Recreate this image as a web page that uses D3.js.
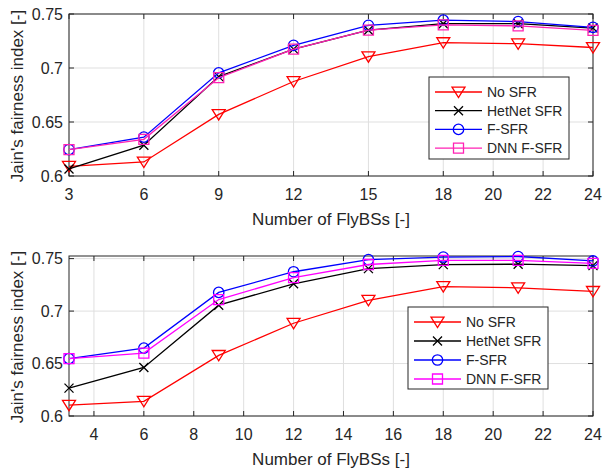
<!DOCTYPE html>
<html>
<head>
<meta charset="utf-8">
<script src="https://cdn.jsdelivr.net/npm/d3@7"></script>
<style>
  body { margin: 0; background: #fff; }
  svg text { font-family: "Liberation Sans", Arial, Helvetica, sans-serif; fill: #262626; }
</style>
</head>
<body>
<svg id="chart" width="604" height="470"></svg>
<script>
const flyBSs = [3, 6, 9, 12, 15, 18, 21, 24];
const seriesNames = ["No SFR", "HetNet SFR", "F-SFR", "DNN F-SFR"];

// top panel values
const topNoSFR = [0.609, 0.613, 0.657, 0.6875, 0.7105, 0.7235, 0.7225, 0.719];
const topHetNet = [0.6065, 0.6285, 0.692, 0.7175, 0.735, 0.741, 0.741, 0.737];
const topFSFR = [0.6245, 0.636, 0.6955, 0.721, 0.7395, 0.7443, 0.743, 0.7377];
const topDNN = [0.6245, 0.634, 0.691, 0.7175, 0.735, 0.740, 0.739, 0.7348];

// bottom panel values
const botNoSFR = [0.6103, 0.614, 0.6578, 0.6884, 0.7103, 0.7234, 0.7222, 0.7188];
const botHetNet = [0.6266, 0.6463, 0.7056, 0.726, 0.7405, 0.7443, 0.7447, 0.7433];
const botFSFR = [0.6547, 0.6647, 0.7178, 0.7375, 0.749, 0.7515, 0.752, 0.7478];
const botDNN = [0.6547, 0.660, 0.711, 0.7319, 0.7444, 0.7484, 0.7484, 0.7455];

const topXTicks = [3, 6, 9, 12, 15, 18, 20, 22, 24];
const botXTicks = [4, 6, 8, 10, 12, 14, 16, 18, 20, 22, 24];
const yTicks = [0.6, 0.65, 0.7, 0.75];

const svg = d3.select("#chart");
const left = 69, right = 593;
const ink = "#262626";

function markerPath(kind, x, y) {
  if (kind === "tri") {
    const s = 6.5;
    return `M${x - s},${y - s * 0.75}L${x + s},${y - s * 0.75}L${x},${y + s * 0.85}Z`;
  }
  if (kind === "x") {
    const s = 4.5;
    return `M${x - s},${y - s}L${x + s},${y + s}M${x - s},${y + s}L${x + s},${y - s}`;
  }
  if (kind === "sq") {
    const s = 5;
    return `M${x - s},${y - s}h${2 * s}v${2 * s}h${-2 * s}Z`;
  }
  return null;
}

function drawMarker(g, kind, x, y, color) {
  if (kind === "circle") {
    g.append("circle").attr("cx", x).attr("cy", y).attr("r", 5.2)
      .attr("fill", "none").attr("stroke", color).attr("stroke-width", 1.3);
  } else {
    g.append("path").attr("d", markerPath(kind, x, y))
      .attr("fill", "none").attr("stroke", color).attr("stroke-width", 1.3);
  }
}

function drawPanel(cfg) {
  const x = d3.scaleLinear().domain([3, 24]).range([left, right]);
  const y = d3.scaleLinear().domain([0.6, cfg.yMax]).range([cfg.bottom, cfg.top]);
  const g = svg.append("g");

  // grid
  g.selectAll(".gx").data(cfg.xTicks).join("line")
    .attr("x1", d => x(d)).attr("x2", d => x(d))
    .attr("y1", cfg.top).attr("y2", cfg.bottom)
    .attr("stroke", "#dfdfdf").attr("stroke-width", 1);
  g.selectAll(".gy").data(yTicks).join("line")
    .attr("x1", left).attr("x2", right)
    .attr("y1", d => y(d)).attr("y2", d => y(d))
    .attr("stroke", "#dfdfdf").attr("stroke-width", 1);

  // box
  g.append("rect").attr("x", left).attr("y", cfg.top)
    .attr("width", right - left).attr("height", cfg.bottom - cfg.top)
    .attr("fill", "none").attr("stroke", ink).attr("stroke-width", 1);

  // inward ticks on all sides
  const tl = 5;
  cfg.xTicks.forEach(t => {
    g.append("line").attr("x1", x(t)).attr("x2", x(t)).attr("y1", cfg.bottom).attr("y2", cfg.bottom - tl).attr("stroke", ink);
    g.append("line").attr("x1", x(t)).attr("x2", x(t)).attr("y1", cfg.top).attr("y2", cfg.top + tl).attr("stroke", ink);
  });
  yTicks.forEach(t => {
    g.append("line").attr("x1", left).attr("x2", left + tl).attr("y1", y(t)).attr("y2", y(t)).attr("stroke", ink);
    g.append("line").attr("x1", right).attr("x2", right - tl).attr("y1", y(t)).attr("y2", y(t)).attr("stroke", ink);
  });

  // tick labels
  g.selectAll(".xl").data(cfg.xTicks).join("text")
    .attr("x", d => x(d)).attr("y", cfg.bottom + 24)
    .attr("text-anchor", "middle").attr("font-size", 16)
    .text(d => d);
  g.selectAll(".yl").data(yTicks).join("text")
    .attr("x", left - 6).attr("y", d => y(d))
    .attr("text-anchor", "end").attr("dominant-baseline", "central")
    .attr("font-size", 16)
    .text(d => d3.format("")(d));

  // axis labels
  g.append("text").attr("x", 331).attr("y", cfg.bottom + 49)
    .attr("text-anchor", "middle").attr("font-size", 17)
    .text("Number of FlyBSs [-]");
  g.append("text")
    .attr("transform", `translate(23,${(cfg.top + cfg.bottom) / 2 + 1}) rotate(-90)`)
    .attr("text-anchor", "middle").attr("font-size", 17)
    .text("Jain's fairness index [-]");

  // series
  const line = d3.line().x((d, i) => x(flyBSs[i])).y(d => y(d));
  cfg.series.forEach(s => {
    g.append("path").datum(s.values).attr("d", line)
      .attr("fill", "none").attr("stroke", s.color).attr("stroke-width", 1.3);
    s.values.forEach((v, i) => drawMarker(g, s.marker, x(flyBSs[i]), y(v), s.color));
  });

  // legend
  const L = cfg.legend;
  g.append("rect").attr("x", L.x).attr("y", L.y).attr("width", L.w).attr("height", L.h)
    .attr("fill", "#fff").attr("stroke", ink).attr("stroke-width", 1);
  cfg.series.forEach((s, i) => {
    const yy = L.y + 15 + i * L.step;
    g.append("line").attr("x1", L.x + 6).attr("x2", L.x + 53)
      .attr("y1", yy).attr("y2", yy).attr("stroke", s.color).attr("stroke-width", 1.3);
    drawMarker(g, s.marker, L.x + 29.5, yy, s.color);
    g.append("text").attr("x", L.x + 58).attr("y", yy)
      .attr("dominant-baseline", "central").attr("font-size", 14)
      .text(s.name);
  });
}

drawPanel({
  top: 14, bottom: 176, yMax: 0.75, xTicks: topXTicks,
  legend: { x: 429, y: 77, w: 140, h: 82, step: 18.7 },
  series: [
    { name: seriesNames[0], values: topNoSFR, color: "#ff0000", marker: "tri" },
    { name: seriesNames[1], values: topHetNet, color: "#000000", marker: "x" },
    { name: seriesNames[2], values: topFSFR, color: "#0000ff", marker: "circle" },
    { name: seriesNames[3], values: topDNN, color: "#ff22b4", marker: "sq" }
  ]
});

drawPanel({
  top: 256, bottom: 416, yMax: 0.7525, xTicks: botXTicks,
  legend: { x: 408, y: 307, w: 140, h: 82, step: 19 },
  series: [
    { name: seriesNames[0], values: botNoSFR, color: "#ff0000", marker: "tri" },
    { name: seriesNames[1], values: botHetNet, color: "#000000", marker: "x" },
    { name: seriesNames[2], values: botFSFR, color: "#0000ff", marker: "circle" },
    { name: seriesNames[3], values: botDNN, color: "#ff00ff", marker: "sq" }
  ]
});
</script>
</body>
</html>
